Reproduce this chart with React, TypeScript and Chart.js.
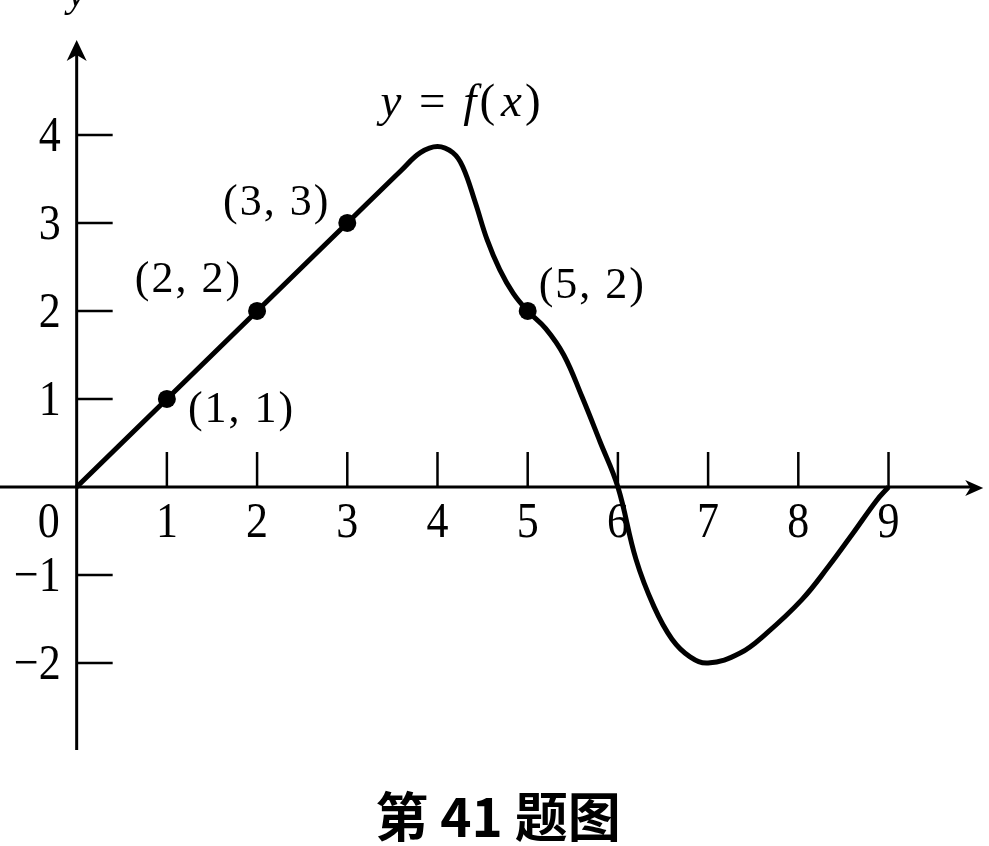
import React, { useEffect, useRef } from "react";
import { Chart, registerables } from "chart.js";

Chart.register(...registerables);

// ---- data ----
const X_TICKS = [1, 2, 3, 4, 5, 6, 7, 8, 9];
const Y_TICKS = [-2, -1, 1, 2, 3, 4];

const CURVE_X = [0, 1, 2, 3, 3.6, 3.81, 4.0, 4.17, 4.28, 4.42, 4.55, 4.69, 4.84, 5.0, 5.2, 5.4, 5.6, 5.8, 6.0, 6.2, 6.4, 6.6, 6.8, 7.0, 7.35, 7.65, 8.04, 8.33, 8.61, 8.87, 9.0];
const CURVE_Y = [0, 1, 2, 3, 3.6, 3.8, 3.87, 3.8, 3.64, 3.23, 2.81, 2.47, 2.2, 2.0, 1.8, 1.5, 1.03, 0.52, 0, -0.82, -1.36, -1.73, -1.93, -2.0, -1.89, -1.66, -1.28, -0.91, -0.52, -0.15, 0];

const POINT_X = [1, 2, 3, 5];
const POINT_Y = [1, 2, 3, 2];
const POINT_LABELS = ["(1, 1)", "(2, 2)", "(3, 3)", "(5, 2)"];

const CURVE_NAME = ["y", " = ", "f", "(", "x", ")"];
const CAPTION = "第 41 题图";

// ---- layout constants ----
const W = 989;
const H = 846;
const X_MIN = -0.85;
const X_MAX = 10.114;
const Y_MIN = -4.08;
const Y_MAX = 5.534;
const Y_AXIS_TOP = 5.08;
const Y_AXIS_BOTTOM = -2.99;
const X_AXIS_RIGHT = 10.05;

const SERIF = "'Liberation Serif', 'DejaVu Serif', serif";

// label placement offsets in px (dx, dy, align)
const LABEL_OFFSETS: [number, number, CanvasTextAlign][] = [
  [21, 23, "left"],
  [-15, -19, "right"],
  [-17, -8, "right"],
  [11, -13, "left"],
];

const axesPlugin = {
  id: "mathAxes",
  beforeDatasetsDraw(chart: any) {
    const ctx: CanvasRenderingContext2D = chart.ctx;
    const xs = chart.scales.x;
    const ys = chart.scales.y;
    const ox = xs.getPixelForValue(0);
    const oy = ys.getPixelForValue(0);
    ctx.save();
    ctx.strokeStyle = "#000";
    ctx.fillStyle = "#000";
    ctx.lineCap = "butt";

    // x axis
    const xRight = xs.getPixelForValue(X_AXIS_RIGHT);
    ctx.lineWidth = 3;
    ctx.beginPath();
    ctx.moveTo(0, oy);
    ctx.lineTo(xRight - 10, oy);
    ctx.stroke();
    ctx.beginPath();
    ctx.moveTo(xRight, oy + 1);
    ctx.lineTo(xRight - 18, oy - 7);
    ctx.lineTo(xRight - 13, oy + 1);
    ctx.lineTo(xRight - 18, oy + 9);
    ctx.closePath();
    ctx.fill();

    // y axis
    const yTop = ys.getPixelForValue(Y_AXIS_TOP);
    const yBot = ys.getPixelForValue(Y_AXIS_BOTTOM);
    ctx.beginPath();
    ctx.moveTo(ox, yBot);
    ctx.lineTo(ox, yTop + 10);
    ctx.stroke();
    ctx.beginPath();
    ctx.moveTo(ox, yTop);
    ctx.lineTo(ox - 10, yTop + 21);
    ctx.lineTo(ox, yTop + 15);
    ctx.lineTo(ox + 10, yTop + 21);
    ctx.closePath();
    ctx.fill();

    // ticks
    ctx.lineWidth = 2.5;
    for (const t of X_TICKS) {
      const px = xs.getPixelForValue(t);
      ctx.beginPath();
      ctx.moveTo(px, oy);
      ctx.lineTo(px, oy - 35);
      ctx.stroke();
    }
    for (const t of Y_TICKS) {
      const py = ys.getPixelForValue(t);
      ctx.beginPath();
      ctx.moveTo(ox, py);
      ctx.lineTo(ox + 36, py);
      ctx.stroke();
    }

    // tick labels
    ctx.font = `44px ${SERIF}`;
    ctx.textBaseline = "alphabetic";
    const drawScaled = (txt: string, x: number, y: number, align: CanvasTextAlign) => {
      ctx.save();
      ctx.translate(x, y);
      ctx.scale(1, 1.15);
      ctx.textAlign = align;
      ctx.fillText(txt, 0, 0);
      ctx.restore();
    };
    for (const t of X_TICKS) {
      drawScaled(String(t), xs.getPixelForValue(t), oy + 50, "center");
    }
    drawScaled("0", ox - 28, oy + 50, "center");
    for (const t of Y_TICKS) {
      const lbl = t < 0 ? "\u2212" + Math.abs(t) : String(t);
      drawScaled(lbl, ox - 16, ys.getPixelForValue(t) + 16, "right");
    }

    // axis name "y" (cut at top)
    ctx.font = `italic 40px ${SERIF}`;
    ctx.textAlign = "center";
    ctx.fillText("y", ox, yTop - 34);
    ctx.restore();
  },
  afterDatasetsDraw(chart: any) {
    const ctx: CanvasRenderingContext2D = chart.ctx;
    const xs = chart.scales.x;
    const ys = chart.scales.y;
    ctx.save();
    ctx.fillStyle = "#000";
    ctx.textBaseline = "alphabetic";

    // point labels
    ctx.font = `44px ${SERIF}`;
    (ctx as any).letterSpacing = "2px";
    POINT_LABELS.forEach((lbl, i) => {
      const px = xs.getPixelForValue(POINT_X[i]);
      const py = ys.getPixelForValue(POINT_Y[i]);
      const [dx, dy, align] = LABEL_OFFSETS[i];
      ctx.textAlign = align;
      ctx.fillText(lbl, px + dx, py + dy);
    });

    // curve name y = f(x), placed above the peak
    ctx.textAlign = "left";
    (ctx as any).letterSpacing = "3px";
    let cx = xs.getPixelForValue(4) - 57;
    const cy = ys.getPixelForValue(4) - 19;
    CURVE_NAME.forEach((part, i) => {
      const italic = i === 0 || i === 2 || i === 4;
      ctx.font = `${italic ? "italic " : ""}47px ${SERIF}`;
      ctx.fillText(part, cx, cy);
      cx += ctx.measureText(part).width + (i === 3 ? 3 : 0);
    });
    (ctx as any).letterSpacing = "0px";

    // caption
    ctx.font = `bold 53px 'Noto Sans CJK SC', sans-serif`;
    ctx.textAlign = "center";
    ctx.fillText(CAPTION, 498, 837);
    ctx.restore();
  },
};

export default function App() {
  const ref = useRef<HTMLCanvasElement>(null);
  useEffect(() => {
    if (!ref.current) return;
    const chart = new Chart(ref.current, {
      type: "scatter",
      data: {
        datasets: [
          {
            label: "f",
            data: CURVE_X.map((x, i) => ({ x, y: CURVE_Y[i] })),
            showLine: true,
            borderColor: "#000",
            borderWidth: 5,
            pointRadius: 0,
            tension: 0.4,
            fill: false,
          },
          {
            label: "points",
            data: POINT_X.map((x, i) => ({ x, y: POINT_Y[i] })),
            showLine: false,
            pointRadius: 9,
            pointBackgroundColor: "#000",
            pointBorderColor: "#000",
            pointBorderWidth: 0,
          },
        ],
      },
      options: {
        animation: false,
        responsive: false,
        maintainAspectRatio: false,
        layout: { padding: 0, autoPadding: false },
        plugins: { legend: { display: false }, tooltip: { enabled: false } },
        events: [],
        scales: {
          x: { type: "linear", min: X_MIN, max: X_MAX, display: false },
          y: { type: "linear", min: Y_MIN, max: Y_MAX, display: false },
        },
      },
      plugins: [axesPlugin],
    });
    return () => chart.destroy();
  }, []);
  return (
    <div style={{ position: "absolute", left: 0, top: 0, width: W, height: H, background: "#fff" }}>
      <canvas ref={ref} width={W} height={H} />
    </div>
  );
}
